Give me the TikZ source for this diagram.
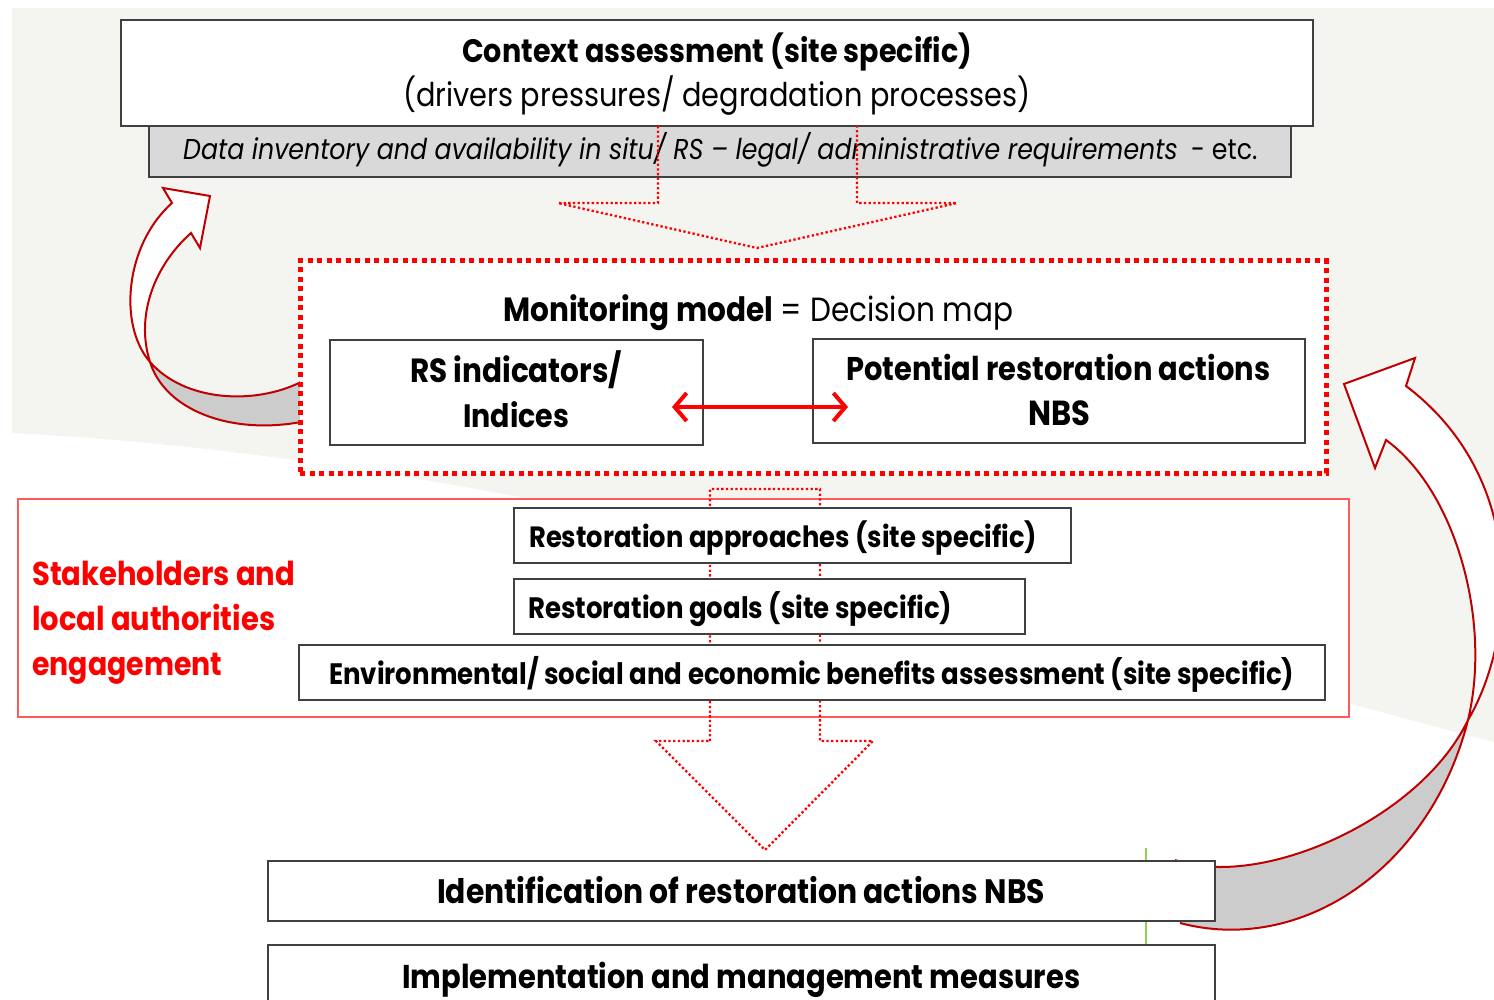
\documentclass[tikz,border=0pt]{standalone}
\usepackage{fontspec}
\setmainfont{Poppins}[FakeStretch=0.88]
\usetikzlibrary{arrows.meta}
\definecolor{bggrey}{RGB}{244,244,240}
\definecolor{datagrey}{RGB}{217,217,217}
\definecolor{bandgrey}{RGB}{204,204,204}
\definecolor{boxline}{RGB}{64,64,64}
\definecolor{darkred}{RGB}{192,0,0}
\definecolor{stkred}{RGB}{255,90,90}
\definecolor{leafgreen}{RGB}{146,208,80}
\newcommand{\fw}[2]{\resizebox{#1pt}{!}{#2}}
\tikzset{
  box/.style={draw=boxline, line width=1.5pt, fill=white, inner sep=0pt},
  txt/.style={anchor=base west, inner sep=0pt, text=black},
  redtxt/.style={anchor=base west, inner sep=0pt, text=red},
  monbox/.style={draw=red, line width=5pt, dash pattern=on 5pt off 4.5pt, fill=white, inner sep=0pt},
  stkbox/.style={draw=stkred, line width=1.5pt, fill=white, inner sep=0pt},
  dotarrow/.style={draw=red, line width=2.3pt, dash pattern=on 2.3pt off 2.4pt, line join=miter},
  curvearrow/.style={draw=darkred, line width=2pt, line join=miter},
  dbl/.style={draw=red, line width=4pt, {Straight Barb[length=12pt,width=28pt]}-{Straight Barb[length=12pt,width=28pt]}},
}
\begin{document}
\begin{tikzpicture}[x=1pt,y=-1pt]
\clip (0,0) rectangle (1494,1000);
\fill[white] (0,0) rectangle (1494,1000);
% background swoosh
\fill[bggrey] (12,8) -- (1494,8) -- (1494,742) .. controls (1100,640) and (550,460) .. (12,433) -- cycle;

% left curved arrow
\fill[white] (301,382) .. controls (255,405) and (185,402) .. (150,362) .. controls (118,325) and (125,245) .. (172,203) -- (163,188) -- (210,196) -- (200,248) -- (191,233) .. controls (155,265) and (135,315) .. (150,362) .. controls (165,410) and (230,435) .. (301,422) -- cycle;
\fill[bandgrey] (301,382) .. controls (255,405) and (185,402) .. (150,362) .. controls (165,410) and (230,435) .. (301,422) -- cycle;
\draw[curvearrow] (301,382) .. controls (255,405) and (185,402) .. (150,362) .. controls (118,325) and (125,245) .. (172,203) -- (163,188) -- (210,196) -- (200,248) -- (191,233) .. controls (155,265) and (135,315) .. (150,362) .. controls (165,410) and (230,435) .. (301,422);

% right curved arrow
\fill[white] (1175,860) .. controls (1260,890) and (1420,820) .. (1468,720) .. controls (1515,640) and (1530,480) .. (1406,386) -- (1415,358) -- (1344,384) -- (1375,468) -- (1386,440) .. controls (1455,490) and (1492,620) .. (1468,720) .. controls (1430,870) and (1300,955) .. (1180,923) -- cycle;
\fill[bandgrey] (1175,860) .. controls (1260,890) and (1420,820) .. (1468,720) .. controls (1430,870) and (1300,955) .. (1180,923) -- cycle;
\draw[curvearrow] (1175,860) .. controls (1260,890) and (1420,820) .. (1468,720) .. controls (1515,640) and (1530,480) .. (1406,386) -- (1415,358) -- (1344,384) -- (1375,468) -- (1386,440) .. controls (1455,490) and (1492,620) .. (1468,720) .. controls (1430,870) and (1300,955) .. (1180,923);

% top boxes
\node[box, fill=datagrey, minimum width=1142pt, minimum height=51pt] (data) at (720,151.5) {};
\node[box, minimum width=1192pt, minimum height=106pt] (ctx) at (717,73) {};
\node[txt] (t1) at (462,63) {\fw{510}{\bfseries Context assessment (site specific)}};
\node[txt] (t2) at (403,107) {\fw{627}{(drivers pressures/ degradation processes)}};
\node[txt] (t3) at (183,160) {\fw{1074}{\itshape Data inventory and availability in situ/ RS – legal/ administrative requirements\upshape\ \ - etc.}};

% top dotted block arrow
\draw[dotarrow] (658,126) -- (658,203) -- (558,203) -- (757,248) -- (957,203) -- (857,203) -- (857,126);

% monitoring box
\node[monbox, minimum width=1026pt, minimum height=212pt] (mon) at (813,367) {};
\node[txt] (t4) at (503,321) {\fw{510}{\textbf{Monitoring model} = Decision map}};
\node[box, minimum width=373pt, minimum height=105pt] (rs) at (516.5,392.5) {};
\node[box, minimum width=492pt, minimum height=104pt] (pot) at (1059,391) {};
\node[txt] (t5) at (410,382) {\fw{212}{\bfseries RS indicators/}};
\node[txt] (t6) at (463,427) {\fw{106}{\bfseries Indices}};
\node[txt] (t7) at (846,381) {\fw{424}{\bfseries Potential restoration actions}};
\node[txt] (t8) at (1028,425) {\fw{62}{\bfseries NBS}};
\coordinate (a1) at (672,407);
\coordinate (a2) at (848,407);
\draw[dbl] (a1) -- (a2);

% stakeholders box
\node[stkbox, minimum width=1331pt, minimum height=218pt] (stk) at (683.5,608) {};
\node[redtxt] (s1) at (32,585) {\fw{263}{\bfseries Stakeholders and}};
\node[redtxt] (s2) at (32,630) {\fw{243}{\bfseries local authorities}};
\node[redtxt] (s3) at (32,675) {\fw{190}{\bfseries engagement}};

% second dotted block arrow
\draw[dotarrow] (710,741) -- (710,489) -- (820,489) -- (820,741) -- (873,741) -- (765,850) -- (656,741) -- cycle;

\node[box, minimum width=557pt, minimum height=55pt] (appr) at (792.5,535.5) {};
\node[box, minimum width=511pt, minimum height=55pt] (goals) at (769.5,606.5) {};
\node[box, minimum width=1026pt, minimum height=55pt] (env) at (812,672.5) {};
\node[txt] (t9) at (529,547) {\fw{508}{\bfseries Restoration approaches (site specific)}};
\node[txt] (t10) at (528,618) {\fw{424}{\bfseries Restoration goals (site specific)}};
\node[txt] (t11) at (329,684) {\fw{965}{\bfseries Environmental/ social and economic benefits assessment (site specific)}};

% bottom boxes
\coordinate (g1) at (1146,848);
\coordinate (g2) at (1146,945);
\draw[leafgreen, line width=2pt] (g1) -- (g2);
\node[box, minimum width=947pt, minimum height=60pt] (ident) at (741.5,891) {};
\node[box, minimum width=947pt, minimum height=65pt] (impl) at (741.5,977.5) {};
\node[txt] (t12) at (437,903) {\fw{608}{\bfseries Identification of restoration actions NBS}};
\node[txt] (t13) at (402,988) {\fw{678}{\bfseries Implementation and management measures}};
\end{tikzpicture}
\end{document}
